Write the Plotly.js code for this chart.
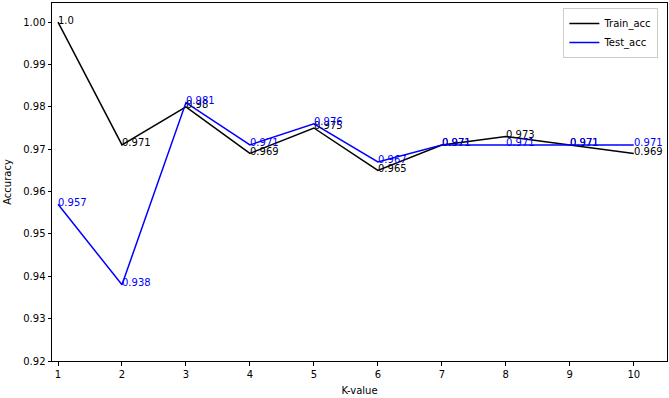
<!DOCTYPE html>
<html><head><meta charset="utf-8">
<script src="https://cdn.plot.ly/plotly-3.0.1.min.js"></script>
<style>body{margin:0;padding:0;background:#fff}#c{width:669px;height:398px}</style>
</head><body><div id="c"></div>
<script>
var kValues = [1,2,3,4,5,6,7,8,9,10];
var trainAcc = [1.0,0.971,0.98,0.969,0.975,0.965,0.971,0.973,0.971,0.969];
var testAcc = [0.957,0.938,0.981,0.971,0.976,0.967,0.971,0.971,0.971,0.971];
var trainLabels = ["1.0","0.971","0.98","0.969","0.975","0.965","0.971","0.973","0.971","0.969"];
var testLabels = ["0.957","0.938","0.981","0.971","0.976","0.967","0.971","0.971","0.971","0.971"];
var yTicks = [0.92,0.93,0.94,0.95,0.96,0.97,0.98,0.99,1.00];
var yTickText = ["0.92","0.93","0.94","0.95","0.96","0.97","0.98","0.99","1.00"];

var font = {family:"DejaVu Sans", size:10, color:"#000"};
var traces = [
 {x:kValues, y:trainAcc, mode:"lines", name:"Train_acc", line:{color:"#000000", width:1.5}},
 {x:kValues, y:testAcc, mode:"lines", name:"Test_acc", line:{color:"#0000ff", width:1.5}}
];
var ann = [];
function addLabels(ys, labels, color){
  for (var i=0;i<kValues.length;i++){
    ann.push({x:kValues[i], y:ys[i], text:labels[i], showarrow:false, xanchor:"left", yanchor:"middle",
      xshift:-1, yshift:2, borderpad:0, font:{family:"DejaVu Sans", size:10, color:color}});
  }
}
addLabels(trainAcc, trainLabels, "#000000");
addLabels(testAcc, testLabels, "#0000ff");

var layout = {
  width:669, height:398,
  margin:{l:52, r:2, t:3, b:37},
  paper_bgcolor:"#fff", plot_bgcolor:"#fff",
  font:font,
  showlegend:true,
  legend:{x:0.986, y:0.986, xanchor:"right", yanchor:"top", bgcolor:"rgba(255,255,255,0.8)",
    bordercolor:"#cccccc", borderwidth:1, font:{family:"DejaVu Sans", size:10, color:"#000"},
    tracegroupgap:0, itemwidth:30},
  xaxis:{range:[0.906,10.52], tickvals:kValues, ticktext:kValues.map(String), showgrid:false, zeroline:false,
    showline:true, mirror:true, linecolor:"#000", linewidth:1, ticks:"outside", ticklen:3.5, tickcolor:"#000",
    title:{text:"K-value", font:{family:"DejaVu Sans", size:10, color:"#000"}, standoff:8}},
  yaxis:{range:[0.92,1.0045], tickvals:yTicks, ticktext:yTickText, showgrid:false, zeroline:false,
    showline:true, mirror:true, linecolor:"#000", linewidth:1, ticks:"outside", ticklen:3.5, tickcolor:"#000",
    title:{text:"Accuracy", font:{family:"DejaVu Sans", size:10, color:"#000"}, standoff:9}},
  annotations:ann
};
Plotly.newPlot("c", traces, layout, {staticPlot:true, displayModeBar:false});
</script></body></html>
